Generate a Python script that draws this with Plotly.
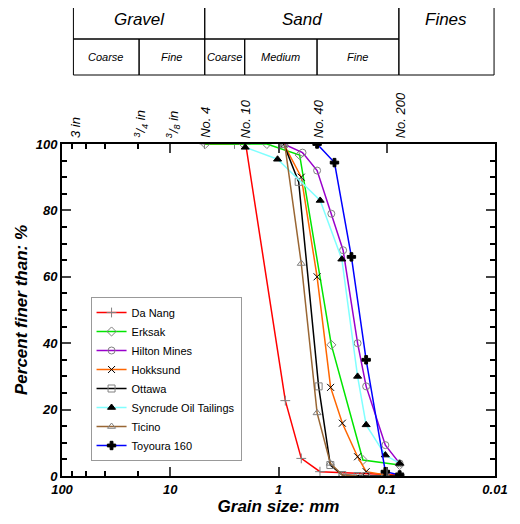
import plotly.graph_objects as go
import math

# grain size (mm) and percent finer for each soil
names = ['Da Nang', 'Erksak', 'Hilton Mines', 'Hokksund', 'Ottawa',
         'Syncrude Oil Tailings', 'Ticino', 'Toyoura 160']
sizes = [
    [4.83, 2.55, 2.01, 0.865, 0.616, 0.414, 0.076],
    [4.75, 2.1, 1.28, 0.638, 0.325, 0.166, 0.076],
    [0.895, 0.6, 0.44, 0.325, 0.253, 0.186, 0.155, 0.103, 0.076],
    [0.895, 0.616, 0.44, 0.33, 0.257, 0.186, 0.155, 0.103, 0.076],
    [0.895, 0.651, 0.426, 0.332, 0.257, 0.186, 0.155, 0.103, 0.076],
    [2.03, 1.02, 0.412, 0.26, 0.186, 0.155, 0.103, 0.076],
    [0.877, 0.616, 0.44, 0.332, 0.257, 0.186],
    [0.44, 0.304, 0.212, 0.155, 0.103, 0.076],
]
percents = [
    [100, 100, 100, 22.7, 5.3, 1.3, 0.3],
    [100, 100, 100, 96.7, 39.5, 4.8, 3.3],
    [100, 97.4, 92, 79, 68, 40, 27, 9.3, 3.8],
    [100, 90, 60, 26.7, 15.9, 5.8, 1.3, 0.3, 0],
    [100, 88.6, 27, 3.3, 0.3, 0, 0, 0, 0],
    [99, 95.4, 83, 65.3, 30, 15.4, 6.3, 3.8],
    [100, 64, 19, 3.8, 0.3, 0],
    [100, 94.4, 66, 35, 1.3, 0.3],
]
line_colors = ['#ff0000', '#00e600', '#9900cc', '#ff6600', '#000000',
               '#80ffff', '#996633', '#0000ff']
symbols = ['cross-thin-open', 'diamond-open', 'circle-open', 'x-thin-open',
           'square-open', 'triangle-up', 'triangle-up-open', 'cross']
marker_colors = ['#808080', '#808080', '#808080', '#000000', '#808080',
                 '#000000', '#808080', '#000000']

sieve_sizes = [75, 19, 9.5, 4.75, 2.0, 0.425, 0.075]
sieve_labels = ['3 in', '<sup>3</sup>/<sub>4</sub> in', '<sup>3</sup>/<sub>8</sub> in',
                'No. 4', 'No. 10', 'No. 40', 'No. 200']

FONT = 'Liberation Sans'
fig = go.Figure()
for i in range(len(names)):
    fig.add_trace(go.Scatter(
        x=sizes[i], y=percents[i], name=names[i], mode='lines+markers',
        line=dict(color=line_colors[i], width=1.5),
        marker=dict(symbol=symbols[i], size=7, color=marker_colors[i],
                    line=dict(color=marker_colors[i], width=1))))

# page is drawn with an 8px offset, so work in reference pixels minus 8
OFF = 8
L, R, T, B = 52 - OFF, 13, 144 - OFF, 48
W, H = 520 - OFF, 524 - OFF
pw, ph = W - L - R, H - T - B
def px(x):
    return (x - OFF - L) / pw
def py(y):
    return (H - B - (y - OFF)) / ph

shapes = []
def box(x0, y0, x1, y1):
    shapes.append(dict(type='rect', xref='paper', yref='paper', x0=px(x0), x1=px(x1),
                       y0=py(y1), y1=py(y0), line=dict(color='black', width=1)))
box(64, 0, 202, 39); box(202, 0, 406, 39); box(406, 0, 506, 75)
box(64, 39, 133, 75); box(133, 39, 202, 75); box(202, 39, 244, 75)
box(244, 39, 320, 75); box(320, 39, 406, 75)

ann = []
def txt(x, y, s, size):
    ann.append(dict(xref='paper', yref='paper', x=px(x), y=py(y), text='<i>' + s + '</i>',
                    xanchor='center', yanchor='middle', showarrow=False,
                    font=dict(size=size, family=FONT, color='black')))
txt(133, 19, 'Gravel', 17); txt(304, 19, 'Sand', 17); txt(456, 19, 'Fines', 17)
txt(98, 57, 'Coarse', 11); txt(167, 57, 'Fine', 11); txt(223, 57, 'Coarse', 11)
txt(282, 57, 'Medium', 11); txt(363, 57, 'Fine', 11)
for s, lab in zip(sieve_sizes, sieve_labels):
    ann.append(dict(xref='x', yref='paper', x=math.log10(s), y=1.012, text='<i>' + lab + '</i>',
                    textangle=-90, showarrow=False, xanchor='center', yanchor='bottom',
                    font=dict(size=13, family=FONT, color='black')))

axfont = dict(size=13, family=FONT, color='black')
def bi(s):
    return '<b><i>' + s + '</i></b>'
fig.update_layout(
    width=W, height=H, margin=dict(l=L, r=R, t=T, b=B),
    plot_bgcolor='white', paper_bgcolor='white', shapes=shapes, annotations=ann,
    xaxis=dict(type='log', range=[2, -2], tickvals=[100, 10, 1, 0.1, 0.01],
               ticktext=[bi(t) for t in ['100', '10', '1', '0.1', '0.01']],
               ticks='inside', ticklen=9, tickwidth=1.5, mirror='ticks', showline=True,
               linecolor='black', linewidth=2, showgrid=False, zeroline=False,
               minor=dict(ticks='inside', ticklen=5, tickcolor='black', showgrid=False),
               tickfont=axfont,
               title=dict(text=bi('Grain size: mm'), standoff=2,
                          font=dict(size=17, family=FONT, color='black'))),
    yaxis=dict(range=[0, 100], tickvals=[0, 20, 40, 60, 80, 100],
               ticktext=[bi(t) for t in ['0', '20', '40', '60', '80', '100']],
               ticks='inside', ticklen=9, tickwidth=1.5, mirror='ticks', showline=True,
               linecolor='black', linewidth=2, showgrid=False, zeroline=False,
               minor=dict(ticks='inside', ticklen=5, dtick=5, tickcolor='black'),
               tickfont=axfont,
               title=dict(text=bi('Percent finer than: %'), standoff=4,
                          font=dict(size=17, family=FONT, color='black'))),
    legend=dict(x=px(82), y=py(297), xanchor='left', yanchor='top',
                bgcolor='white', bordercolor='#999999', borderwidth=1,
                font=dict(size=11, family=FONT, color='black'), tracegroupgap=0),
)
fig.write_html('out.html')
